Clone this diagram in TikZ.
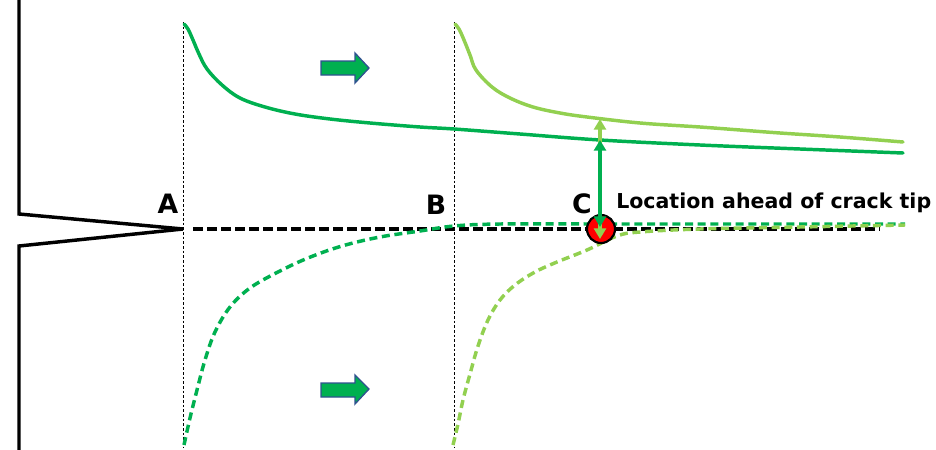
\documentclass[tikz,border=0pt]{standalone}
\usepackage{fontspec}
\setmainfont{DejaVu Sans}
\usetikzlibrary{arrows.meta}
\definecolor{dgreen}{HTML}{00B050}
\definecolor{lgreen}{HTML}{92D050}
\definecolor{bordblue}{HTML}{2F528F}
\definecolor{tipred}{HTML}{FF0000}
\begin{document}
\begin{tikzpicture}[x=0.75pt,y=-0.75pt,
  profile/.style={black, line width=2.6pt, line join=miter},
  crackdash/.style={black, line width=2.6pt, dash pattern=on 7.5pt off 3pt},
  guide/.style={black, line width=0.5pt, dash pattern=on 2pt off 1.5pt},
  curve/.style={line width=2.6pt, line cap=round},
  dcurve/.style={line width=2.6pt, dash pattern=on 6pt off 3.5pt},
  lbl/.style={font=\fontsize{20}{24}\selectfont\bfseries, inner sep=0pt},
  loclbl/.style={font=\fontsize{15.4}{18}\selectfont\bfseries, inner sep=0pt},
  blockarrow/.style={fill=dgreen, draw=bordblue, line width=1pt, line join=miter},
  dimarrow/.style={line width=2.6pt, {Triangle[width=9pt,length=8pt]}-{Triangle[width=9pt,length=8pt]}},
  tipmark/.style={circle, fill=tipred, draw=black, line width=1.6pt, minimum size=21pt, inner sep=0pt}
]
\useasboundingbox (0,0) rectangle (936,450);

% crack profile
\coordinate (tipA) at (183,229);
\coordinate (crackEnd) at (880,229);
\draw[profile] (19,0) -- (19,214) -- (tipA) -- (19,246) -- (19,450);

% guide lines
\coordinate (gAtop) at (183,22);
\coordinate (gAbot) at (183,447);
\coordinate (gBtop) at (454,22);
\coordinate (gBbot) at (454,447);
\draw[guide] (gAtop) -- (gAbot);
\draw[guide] (gBtop) -- (gBbot);

% crack line ahead
\coordinate (crackStart) at (193,229);
\draw[crackdash] (crackStart) -- (crackEnd);

% upper curves
\draw[curve, dgreen] plot[smooth, tension=0.6] coordinates {
 (184,24) (188,29) (193,40) (199,54) (207,69) (222,85) (240,98) (265,107)
 (295,114) (330,119) (370,123) (420,127) (454,129) (520,134) (600,140)
 (700,145) (800,149) (903,153)};
\draw[curve, lgreen] plot[smooth, tension=0.6] coordinates {
 (455,24) (459,29) (464,40) (470,55) (476,70) (492,87) (510,98) (533,107)
 (560,113) (587,117) (640,123) (700,127) (740,130) (780,133) (840,137) (903,142)};

% lower dashed curves
\draw[dcurve, dgreen] plot[smooth, tension=0.6] coordinates {
 (184,445) (190,418) (197,390) (205,360) (215,332) (230,307) (250,288)
 (278,272) (308,258) (342,246) (380,237) (420,231) (454,226) (500,224)
 (600,224) (700,224) (800,224) (905,224)};
\draw[dcurve, lgreen] plot[smooth, tension=0.6] coordinates {
 (453,445) (458,424) (463,400) (470,374) (478,346) (488,320) (500,300)
 (515,285) (535,272) (557,262) (587,250) (617,236) (640,232) (700,229)
 (800,227) (905,225)};

% block arrows
\draw[blockarrow] (321,61) -- (355,61) -- (355,53) -- (369,68) -- (355,83) -- (355,75) -- (321,75) -- cycle;
\draw[blockarrow] (321,383) -- (355,383) -- (355,375) -- (369,389) -- (355,404) -- (355,397) -- (321,397) -- cycle;

% crack-tip location marker
\node[tipmark] (ptC) at (601,229) {};

% measurement arrows
\coordinate (ltop) at (600,119);
\coordinate (lbot) at (600,239);
\coordinate (dtop) at (600,140);
\coordinate (dbot) at (600,227);
\draw[dimarrow, lgreen] (lbot) -- (ltop);
\draw[dimarrow, dgreen] (dbot) -- (dtop);

% labels
\node[lbl] (lA) at (168,204) {A};
\node[lbl] (lB) at (436,205) {B};
\node[lbl] (lC) at (582,204) {C};
\node[loclbl, anchor=base west] (loc) at (616,208) {Location ahead of crack tip};
\end{tikzpicture}
\end{document}
